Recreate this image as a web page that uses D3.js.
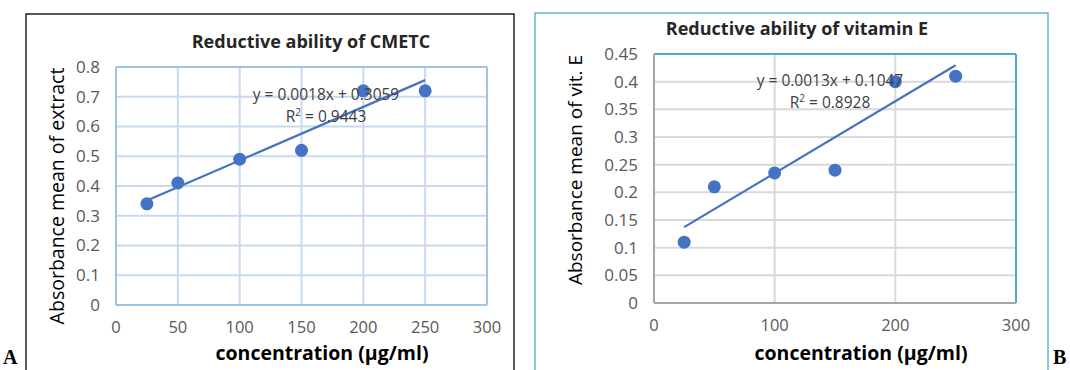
<!DOCTYPE html>
<html>
<head>
<meta charset="utf-8">
<script src="https://cdn.jsdelivr.net/npm/d3@7"></script>
<style>
  body { margin: 0; background: #fff; }
  svg { display: block; }
  text { font-family: "Open Sans", "Noto Sans", sans-serif; }
</style>
</head>
<body>
<svg width="1070" height="370"></svg>
<script>
// panel A: CMETC extract
const concA = [25, 50, 100, 150, 200, 250];
const absA = [0.34, 0.41, 0.49, 0.52, 0.72, 0.72];
const fitA = { slope: 0.0018, intercept: 0.3059, r2: "0.9443" };
const xTicksA = [0, 50, 100, 150, 200, 250, 300];
const yTicksA = [0, 0.1, 0.2, 0.3, 0.4, 0.5, 0.6, 0.7, 0.8];

// panel B: vitamin E
const concB = [25, 50, 100, 150, 200, 250];
const absB = [0.11, 0.21, 0.235, 0.24, 0.40, 0.41];
const fitB = { slope: 0.0013, intercept: 0.1047, r2: "0.8928" };
const xTicksB = [0, 100, 200, 300];
const yTicksB = [0, 0.05, 0.1, 0.15, 0.2, 0.25, 0.3, 0.35, 0.4, 0.45];

const blue = "#4472c4";
const svg = d3.select("svg");

function panel(opt) {
    const g = svg.append("g");
    const x = d3.scaleLinear().domain([0, 300]).range([opt.x0, opt.x1]);
    const y = d3.scaleLinear().domain([0, opt.yMax]).range([opt.y0, opt.y1]);

    // frame around the whole chart
    g.append("rect")
        .attr("x", opt.frame[0]).attr("y", opt.frame[1])
        .attr("width", opt.frame[2]).attr("height", opt.frame[3])
        .attr("fill", "none")
        .attr("stroke", opt.frameColor)
        .attr("stroke-width", 1.3);

    // grid
    g.append("g").selectAll("line")
        .data(opt.yTicks)
        .join("line")
        .attr("x1", opt.x0).attr("x2", opt.x1)
        .attr("y1", d => y(d)).attr("y2", d => y(d))
        .attr("stroke", opt.gridColor).attr("stroke-width", 2);
    g.append("g").selectAll("line")
        .data(opt.xTicks)
        .join("line")
        .attr("y1", opt.y0).attr("y2", opt.y1)
        .attr("x1", d => x(d)).attr("x2", d => x(d))
        .attr("stroke", opt.gridColor).attr("stroke-width", 2);

    // plot border
    g.append("line").attr("x1", opt.x0).attr("x2", opt.x1).attr("y1", opt.y1).attr("y2", opt.y1)
        .attr("stroke", opt.topColor).attr("stroke-width", 2);
    g.append("line").attr("x1", opt.x1).attr("x2", opt.x1).attr("y1", opt.y0).attr("y2", opt.y1)
        .attr("stroke", opt.topColor).attr("stroke-width", 2);
    g.append("line").attr("x1", opt.x0).attr("x2", opt.x1).attr("y1", opt.y0).attr("y2", opt.y0)
        .attr("stroke", opt.axisColor).attr("stroke-width", 2);
    g.append("line").attr("x1", opt.x0).attr("x2", opt.x0).attr("y1", opt.y0).attr("y2", opt.y1)
        .attr("stroke", opt.axisColor).attr("stroke-width", 2);

    // tick labels
    g.append("g").selectAll("text")
        .data(opt.yTicks)
        .join("text")
        .attr("x", opt.x0 - 16).attr("y", d => y(d))
        .attr("dy", "0.35em")
        .attr("text-anchor", "end")
        .attr("font-size", 17)
        .attr("fill", "#595959")
        .text(d => d);
    g.append("g").selectAll("text")
        .data(opt.xTicks)
        .join("text")
        .attr("x", d => x(d)).attr("y", opt.y0 + 28)
        .attr("text-anchor", "middle")
        .attr("font-size", 16.5)
        .attr("fill", "#595959")
        .text(d => d);

    // trendline
    const xs = d3.extent(opt.conc);
    g.append("line")
        .attr("x1", x(xs[0])).attr("y1", y(opt.fit.slope * xs[0] + opt.fit.intercept))
        .attr("x2", x(xs[1])).attr("y2", y(opt.fit.slope * xs[1] + opt.fit.intercept))
        .attr("stroke", blue).attr("stroke-width", 2.2);

    // points
    g.append("g").selectAll("circle")
        .data(opt.conc.map((c, i) => [c, opt.abs[i]]))
        .join("circle")
        .attr("cx", d => x(d[0])).attr("cy", d => y(d[1]))
        .attr("r", 6.5)
        .attr("fill", blue);

    // equation
    g.append("text")
        .attr("x", opt.eqX).attr("y", opt.eqY)
        .attr("text-anchor", "middle")
        .attr("font-size", 15.5)
        .attr("fill", "#404040")
        .text(`y = ${opt.fit.slope}x + ${opt.fit.intercept}`);
    const r = g.append("text")
        .attr("x", opt.eqX).attr("y", opt.eqY + 22)
        .attr("text-anchor", "middle")
        .attr("font-size", 15.5)
        .attr("fill", "#404040");
    r.append("tspan").text("R");
    r.append("tspan").attr("dy", -6).attr("font-size", 10).text("2");
    r.append("tspan").attr("dy", 6).text(` = ${opt.fit.r2}`);

    // titles
    g.append("text")
        .attr("x", opt.titleX).attr("y", opt.titleY)
        .attr("text-anchor", "middle")
        .attr("font-size", 18).attr("font-weight", "bold")
        .attr("fill", "#262626")
        .text(opt.title);
    g.append("text")
        .attr("x", opt.xTitleX).attr("y", 360)
        .attr("text-anchor", "middle")
        .attr("font-size", 19.5).attr("font-weight", "bold")
        .attr("fill", "#000")
        .text("concentration (µg/ml)");
    g.append("text")
        .attr("transform", `translate(${opt.yTitleX},${opt.yTitleY}) rotate(-90)`)
        .attr("text-anchor", "middle")
        .attr("font-size", opt.yTitleSize)
        .attr("fill", "#000")
        .text(opt.yTitle);
}

panel({
    x0: 116, x1: 487, y0: 305, y1: 67, yMax: 0.8,
    conc: concA, abs: absA, fit: fitA, xTicks: xTicksA, yTicks: yTicksA,
    frame: [26, 14, 488, 370], frameColor: "#000",
    gridColor: "#c6d9f0", topColor: "#9dc3e6", axisColor: "#9dc3e6",
    eqX: 326, eqY: 100, title: "Reductive ability of CMETC", titleX: 311, titleY: 48,
    xTitleX: 322, yTitleX: 64, yTitleY: 196, yTitleSize: 19.5, yTitle: "Absorbance mean of extract"
});

panel({
    x0: 654, x1: 1016, y0: 303, y1: 54, yMax: 0.45,
    conc: concB, abs: absB, fit: fitB, xTicks: xTicksB, yTicks: yTicksB,
    frame: [535, 13, 513, 370], frameColor: "#4bacc6",
    gridColor: "#d9d9d9", topColor: "#4bacc6", axisColor: "#a6a6a6",
    eqX: 830, eqY: 86, title: "Reductive ability of vitamin E", titleX: 797, titleY: 35,
    xTitleX: 861, yTitleX: 582, yTitleY: 170, yTitleSize: 19, yTitle: "Absorbance mean of vit. E"
});

// panel letters
svg.append("text").attr("x", 3).attr("y", 364)
    .style("font-family", "'Liberation Serif', serif").attr("font-size", 20).attr("font-weight", "bold")
    .text("A");
svg.append("text").attr("x", 1053).attr("y", 364)
    .style("font-family", "'Liberation Serif', serif").attr("font-size", 20).attr("font-weight", "bold")
    .text("B");
</script>
</body>
</html>
